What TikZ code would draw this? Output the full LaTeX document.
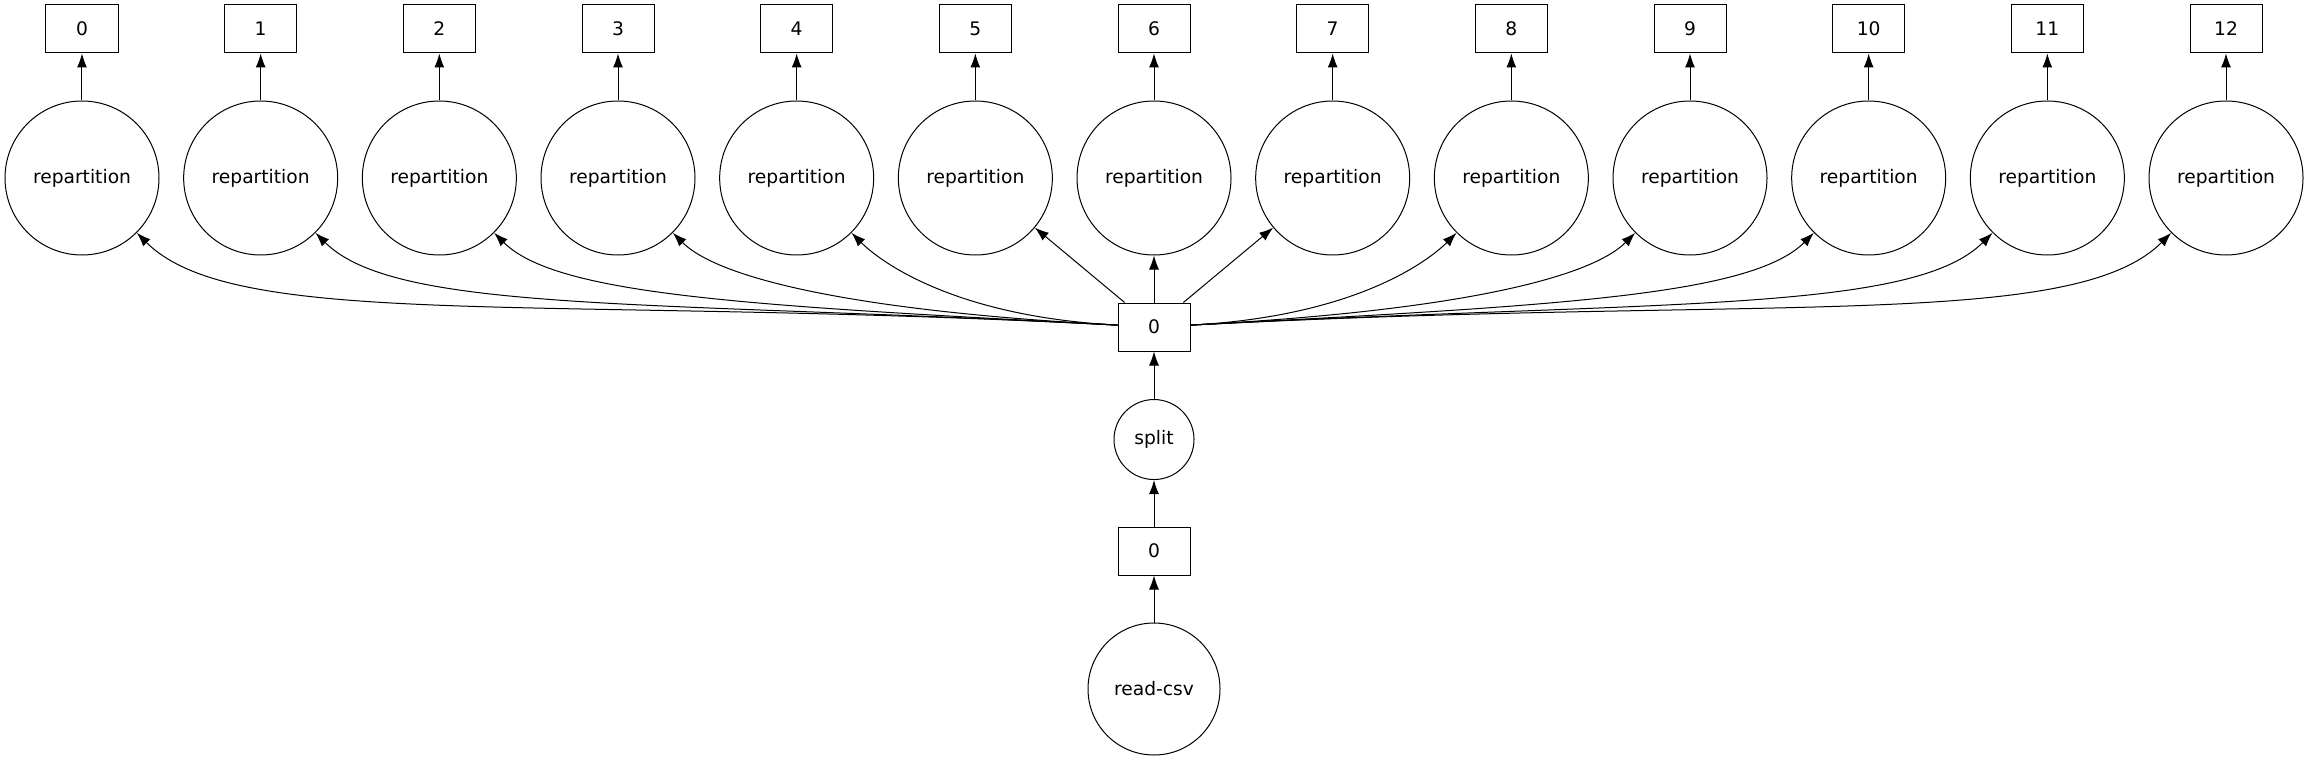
\documentclass[tikz,border=0pt]{standalone}
\usepackage{fontspec}
\setmainfont{DejaVu Sans}
\usetikzlibrary{positioning,arrows.meta}

\begin{document}
\begin{tikzpicture}[-{Latex[length=10.5pt,width=7.5pt]}, node distance = 111.75pt and 134pt, on grid, line width=0.75pt,
      font=\fontsize{14pt}{17pt}\selectfont,
      chunkbox/.style={rectangle, draw=black, fill=white, minimum width=54pt, minimum height=36pt, inner sep=0pt},
      taskcirc/.style={circle, draw=black, fill=white, inner sep=0pt, minimum size=115.5pt},
      fanleft/.style={out=177, in=-45, out looseness=1.5, in looseness=0.36},
      fanright/.style={out=3, in=-135, out looseness=1.5, in looseness=0.36}]
			 \useasboundingbox (-61.5pt,133.5pt) rectangle (1670.25pt,-436.5pt);
			 \node [taskcirc] (R0) {repartition};
			 \node [taskcirc] (R1) [right =of R0] {repartition};
			 \node [taskcirc] (R2) [right =of R1] {repartition};
			 \node [taskcirc] (R3) [right =of R2] {repartition};
			 \node [taskcirc] (R4) [right =of R3] {repartition};
			 \node [taskcirc] (R5) [right =of R4] {repartition};
			 \node [taskcirc] (R6) [right =of R5] {repartition};
			 \node [taskcirc] (R7) [right =of R6] {repartition};
			 \node [taskcirc] (R8) [right =of R7] {repartition};
			 \node [taskcirc] (R9) [right =of R8] {repartition};
			 \node [taskcirc] (R10) [right =of R9] {repartition};
			 \node [taskcirc] (R11) [right =of R10] {repartition};
			 \node [taskcirc] (R12) [right =of R11] {repartition};
			 \node [chunkbox] (P0) [above =of R0] {0};
			 \node [chunkbox] (P1) [above =of R1] {1};
			 \node [chunkbox] (P2) [above =of R2] {2};
			 \node [chunkbox] (P3) [above =of R3] {3};
			 \node [chunkbox] (P4) [above =of R4] {4};
			 \node [chunkbox] (P5) [above =of R5] {5};
			 \node [chunkbox] (P6) [above =of R6] {6};
			 \node [chunkbox] (P7) [above =of R7] {7};
			 \node [chunkbox] (P8) [above =of R8] {8};
			 \node [chunkbox] (P9) [above =of R9] {9};
			 \node [chunkbox] (P10) [above =of R10] {10};
			 \node [chunkbox] (P11) [above =of R11] {11};
			 \node [chunkbox] (P12) [above =of R12] {12};
			 \node [chunkbox] (MID) [below =of R6] {0};
			 \node [taskcirc, minimum size=60pt] (SPLIT) [below =84.4pt of MID] {split};
			 \node [chunkbox] (CHUNK) [below =83.6pt of SPLIT] {0};
			 \node [taskcirc, minimum size=99pt] (READ) [below =103.5pt of CHUNK] {read-csv};
			 \path (R0) edge (P0);
			 \path (R1) edge (P1);
			 \path (R2) edge (P2);
			 \path (R3) edge (P3);
			 \path (R4) edge (P4);
			 \path (R5) edge (P5);
			 \path (R6) edge (P6);
			 \path (R7) edge (P7);
			 \path (R8) edge (P8);
			 \path (R9) edge (P9);
			 \path (R10) edge (P10);
			 \path (R11) edge (P11);
			 \path (R12) edge (P12);
			 \path (MID) edge [fanleft] (R0);
			 \path (MID) edge [fanleft] (R1);
			 \path (MID) edge [fanleft] (R2);
			 \path (MID) edge [fanleft] (R3);
			 \path (MID) edge [fanleft] (R4);
			 \path (MID) edge (R5);
			 \path (MID) edge (R6);
			 \path (MID) edge (R7);
			 \path (MID) edge [fanright] (R8);
			 \path (MID) edge [fanright] (R9);
			 \path (MID) edge [fanright] (R10);
			 \path (MID) edge [fanright] (R11);
			 \path (MID) edge [fanright] (R12);
			 \path (SPLIT) edge (MID);
			 \path (CHUNK) edge (SPLIT);
			 \path (READ) edge (CHUNK);
		\end{tikzpicture}
\end{document}
